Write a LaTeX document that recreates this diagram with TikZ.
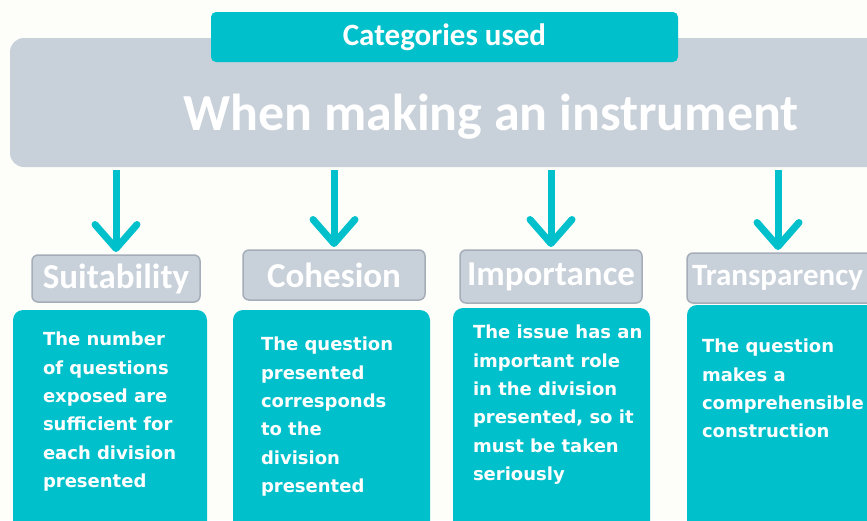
\documentclass[tikz,border=0pt]{standalone}
\usepackage{fontspec}
\setmainfont{Carlito}
\newfontfamily\bodyfont{DejaVu Sans}
\usetikzlibrary{arrows.meta}
\definecolor{tealfill}{RGB}{0,193,203}
\definecolor{greyfill}{RGB}{200,208,217}
\definecolor{greyline}{RGB}{165,173,184}
\definecolor{paper}{RGB}{253,254,250}

\begin{document}
\begin{tikzpicture}[x=1pt,y=-1pt]
	\tikzstyle{every node}=[inner sep=0pt,outer sep=0pt]
	\tikzstyle{tealbox}=[fill=tealfill,rounded corners=10pt,anchor=north west]
	\tikzstyle{greybox}=[fill=greyfill,rounded corners=14pt,anchor=north west]
	\tikzstyle{catbox}=[fill=greyfill,draw=greyline,line width=1.5pt,rounded corners=6pt,
		text=white,font=\bfseries\fontsize{35}{35}\selectfont]
	\tikzstyle{desc}=[text=white,align=left,anchor=north west,
		font=\bodyfont\bfseries\fontsize{18}{28.4}\selectfont]
	\tikzstyle{down}=[draw=tealfill,line width=7pt,shorten <=3pt,shorten >=3pt,
		-{Straight Barb[length=24pt,width=42pt,line cap=round,line join=round]}]
	\useasboundingbox (0,0) rectangle (867,520);
	\clip (0,0) rectangle (867,520);
	\fill[paper] (0,0) rectangle (867,520);
	\node[greybox,minimum width=880,minimum height=129] (main) at (10,38) {};
	\node[text=white,font=\bfseries\fontsize{52}{52}\selectfont] (title) at (491,117) {When making an instrument};
	\node[fill=tealfill,rounded corners=5pt,minimum width=467,minimum height=50,
		text=white,font=\bfseries\fontsize{31}{31}\selectfont] (used) at (444.5,37) {Categories used};
	\node[catbox,minimum width=168,minimum height=47] (suit) at (116,278.5) {Suitability};
	\node[catbox,minimum width=182,minimum height=50] (coh) at (334,275) {Cohesion};
	\node[catbox,minimum width=182,minimum height=53] (imp) at (551,276.5) {Importance};
	\node[catbox,minimum height=50,anchor=west,text width=200,align=left,inner xsep=5pt,
		font=\bfseries\fontsize{31}{31}\selectfont] (trans) at (687,278) {Transparency};
	\draw[down] (main.south -| suit.north) -- (suit.north);
	\draw[down] (main.south -| coh.north) -- (coh.north);
	\draw[down] (main.south -| imp.north) -- (imp.north);
	\draw[down] (main.south -| 778,0) -- (trans.north -| 778,0);
	\node[tealbox,minimum width=194,minimum height=230] (d1) at (13,310) {};
	\node[tealbox,minimum width=197,minimum height=230] (d2) at (233,310) {};
	\node[tealbox,minimum width=197,minimum height=232] (d3) at (453,308) {};
	\node[tealbox,minimum width=203,minimum height=235] (d4) at (687,305) {};
	\node[desc] (t1) at (43,332) {The number\\of questions\\exposed are\\sufficient for\\each division\\presented};
	\node[desc] (t2) at (261,337) {The question\\presented\\corresponds\\to the\\division\\presented};
	\node[desc] (t3) at (473,325) {The issue has an\\important role\\in the division\\presented, so it\\must be taken\\seriously};
	\node[desc] (t4) at (702,339) {The question\\makes a\\comprehensible\\construction};
\end{tikzpicture}
\end{document}
